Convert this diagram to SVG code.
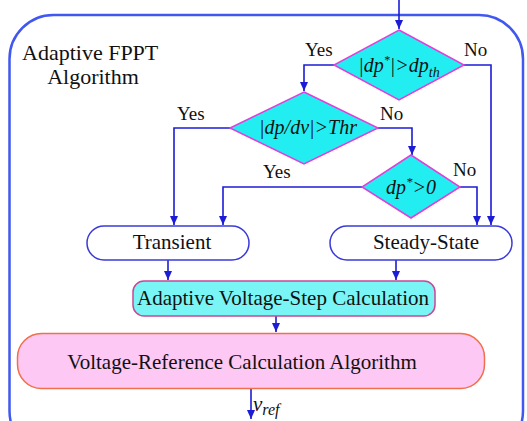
<svg xmlns="http://www.w3.org/2000/svg" width="527" height="421" viewBox="0 0 527 421" font-family="'Liberation Serif', 'Times New Roman', 'DejaVu Serif', serif">
<style>
text{font-family:'Liberation Serif','Times New Roman','DejaVu Serif',serif;fill:#111;}
.lbl{font-size:19px;}
.box{font-size:21px;text-anchor:middle;}
.it{font-style:italic;font-size:20px;text-anchor:middle;}
.dia{fill:#22eef2;stroke:#e040d8;stroke-width:1.5;}
.term{fill:#fff;stroke:#3a3ad8;stroke-width:1.5;}
.con{fill:none;stroke:#1c1cd6;stroke-width:1.6;marker-end:url(#ah);}
</style>
<defs>
<marker id="ah" markerUnits="userSpaceOnUse" markerWidth="10" markerHeight="10" viewBox="0 0 10 10" refX="9" refY="5" orient="auto">
<path d="M0,1 L9,5 L0,9 Z" fill="#1c1cd6"/>
</marker>
</defs>
<rect id="frame" x="9.5" y="15" width="513.5" height="440" rx="44" fill="#fff" stroke="#4057f0" stroke-width="2.5"/>
<g id="title">
<text x="22" y="60" font-size="22">Adaptive FPPT</text>
<text x="93" y="84" font-size="22" text-anchor="middle">Algorithm</text>
</g>
<g id="connectors">
<path class="con" d="M399,0 V29"/>
<path class="con" d="M334,65 H304 V91"/>
<path class="con" d="M464,65 H491 V225"/>
<path class="con" d="M230,128 H174 V225"/>
<path class="con" d="M378,128 H412 V155"/>
<path class="con" d="M362,187 H223 V225"/>
<path class="con" d="M460,187 H477 V225"/>
<path class="con" d="M168,260 V280"/>
<path class="con" d="M396,260 V280"/>
<path class="con" d="M276,316 V332"/>
<path class="con" d="M251,388 V419"/>
</g>
<g id="d1">
<polygon class="dia" points="399,30 464,65 399,100 334,65"/>
<text class="it" x="399" y="72">|dp<tspan dy="-8" font-size="12">*</tspan><tspan dy="8">|&gt;dp</tspan><tspan dy="5" font-size="14">th</tspan></text>
</g>
<g id="d2">
<polygon class="dia" points="304,92 378,128 304,164 230,128"/>
<text class="it" x="308" y="134" font-size="21">|dp/dv|&gt;Thr</text>
</g>
<g id="d3">
<polygon class="dia" points="411,155 460,187 411,218 362,187"/>
<text class="it" x="411" y="194" font-size="21">dp<tspan dy="-8" font-size="13">*</tspan><tspan dy="8">&gt;0</tspan></text>
</g>
<g id="labels">
<text class="lbl" x="305" y="56">Yes</text>
<text class="lbl" x="464" y="56">No</text>
<text class="lbl" x="177" y="120">Yes</text>
<text class="lbl" x="380" y="120">No</text>
<text class="lbl" x="263" y="178">Yes</text>
<text class="lbl" x="453" y="176">No</text>
</g>
<g id="transient">
<rect class="term" x="87" y="226" width="162" height="34" rx="17"/>
<text class="box" x="172" y="249">Transient</text>
</g>
<g id="steady">
<rect class="term" x="330" y="226" width="182" height="34" rx="17"/>
<text class="box" x="426" y="249">Steady-State</text>
</g>
<g id="adaptive">
<rect x="133" y="281" width="302" height="35" rx="11" fill="#7af5f5" stroke="#c84896" stroke-width="1.5"/>
<text class="box" x="283" y="305">Adaptive Voltage-Step Calculation</text>
</g>
<g id="vref">
<rect x="17.5" y="333.5" width="467" height="55" rx="24" fill="#fdc8f3" stroke="#f0704c" stroke-width="1.5"/>
<text class="box" x="242" y="369">Voltage-Reference Calculation Algorithm</text>
</g>
<g id="out">
<text x="253" y="411" font-style="italic" font-size="21">v<tspan dy="4" font-size="16">ref</tspan></text>
</g>
</svg>
